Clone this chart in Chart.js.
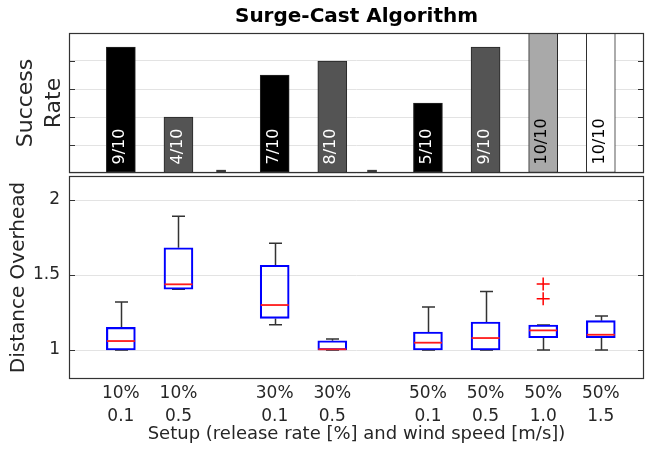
<!DOCTYPE html>
<html>
<head>
<meta charset="utf-8">
<script src="https://cdn.jsdelivr.net/npm/chart.js"></script>
<style>
  html, body { margin: 0; padding: 0; background: #fff; }
  #wrap { position: relative; width: 645px; height: 458px; overflow: hidden; }
  canvas { position: absolute; left: 0; }
  #topChart { top: 0; width: 645px; height: 176px; }
  #bottomChart { top: 174px; width: 645px; height: 284px; }
</style>
</head>
<body>
<div id="wrap">
  <canvas id="topChart" width="645" height="176"></canvas>
  <canvas id="bottomChart" width="645" height="284"></canvas>
</div>
<script>
// setups (x axis)
const releaseRates = ['10%', '10%', '30%', '30%', '50%', '50%', '50%', '50%'];
const windSpeeds = ['0.1', '0.5', '0.1', '0.5', '0.1', '0.5', '1.0', '1.5'];
const xPos = [1, 2, 3.67, 4.67, 6.33, 7.33, 8.33, 9.33];
const xMin = 0.1;
const xMax = 10.08;

// success rate (top)
const successes = [9, 4, 7, 8, 5, 9, 10, 10];
const trials = 10;
const emptySlots = [2.74, 5.36];

// distance overhead boxes (bottom)
const whiskerLow  = [1.0,   1.405, 1.169, 1.0,   1.0,   1.0,   1.0,   1.0];
const q1          = [1.0,   1.405, 1.211, 1.0,   1.0,   1.0,   1.082, 1.082];
const median      = [1.06,  1.438, 1.30,  1.005, 1.049, 1.08,  1.131, 1.102];
const q3          = [1.151, 1.682, 1.565, 1.062, 1.12,  1.187, 1.167, 1.196];
const whiskerHigh = [1.32,  1.891, 1.711, 1.073, 1.287, 1.391, 1.167, 1.227];
const outlierX = [8.33, 8.33];
const outlierY = [1.44, 1.342];
const overheadTicks = [1, 1.5, 2];
const rateTicks = [0.2, 0.4, 0.6, 0.8];

const windColor = { '0.1': '#000000', '0.5': '#545454', '1.0': '#a9a9a9', '1.5': '#ffffff' };
const lightWind = ['1.0', '1.5'];

Chart.defaults.font.family = '"DejaVu Sans", sans-serif';
Chart.defaults.color = '#262626';

// box outline + inward ticks, like matlab axes
const framePlugin = {
  id: 'frame',
  afterDraw(chart, args, opts) {
    const { ctx, chartArea: a } = chart;
    const y = chart.scales.y;
    ctx.save();
    ctx.strokeStyle = '#333';
    ctx.lineWidth = 1.2;
    ctx.strokeRect(a.left + 0.5, a.top + 0.5, a.right - a.left - 1, a.bottom - a.top - 1);
    opts.ticks.forEach(v => {
      const py = Math.round(y.getPixelForValue(v)) + 0.5;
      ctx.beginPath();
      ctx.moveTo(a.left, py); ctx.lineTo(a.left + 6, py);
      ctx.moveTo(a.right, py); ctx.lineTo(a.right - 6, py);
      ctx.stroke();
    });
    ctx.restore();
  }
};

const barLabelPlugin = {
  id: 'barLabels',
  afterDatasetsDraw(chart) {
    const ctx = chart.ctx;
    const meta = chart.getDatasetMeta(0);
    ctx.save();
    ctx.font = '16px "DejaVu Sans"';
    ctx.textAlign = 'left';
    ctx.textBaseline = 'middle';
    meta.data.forEach((bar, i) => {
      ctx.save();
      ctx.translate(bar.x - 1, bar.base - 8);
      ctx.rotate(-Math.PI / 2);
      ctx.fillStyle = lightWind.includes(windSpeeds[i]) ? '#000' : '#fff';
      ctx.fillText(successes[i] + '/' + trials, 0, 0);
      ctx.restore();
    });
    ctx.restore();
  }
};

// whiskers go under the boxes, medians on top
const boxPartsPlugin = {
  id: 'boxParts',
  beforeDatasetsDraw(chart) {
    const { ctx, scales: { x, y } } = chart;
    ctx.save();
    ctx.strokeStyle = '#333';
    ctx.lineWidth = 1.5;
    xPos.forEach((v, i) => {
      const px = Math.round(x.getPixelForValue(v)) + 0.5;
      [[q3[i], whiskerHigh[i]], [q1[i], whiskerLow[i]]].forEach(([from, to]) => {
        const y0 = y.getPixelForValue(from);
        const y1 = y.getPixelForValue(to);
        ctx.beginPath();
        ctx.moveTo(px, y0); ctx.lineTo(px, y1);
        ctx.moveTo(px - 6.5, y1); ctx.lineTo(px + 6.5, y1);
        ctx.stroke();
      });
    });
    ctx.restore();
  },
  afterDatasetsDraw(chart) {
    const { ctx, scales: { x, y } } = chart;
    ctx.save();
    ctx.strokeStyle = '#ff1a1a';
    ctx.lineWidth = 1.8;
    xPos.forEach((v, i) => {
      const px = x.getPixelForValue(v);
      const py = y.getPixelForValue(median[i]);
      ctx.beginPath();
      ctx.moveTo(px - 14, py); ctx.lineTo(px + 14, py);
      ctx.stroke();
    });
    ctx.restore();
  }
};

new Chart(document.getElementById('topChart'), {
  type: 'bar',
  data: {
    datasets: [{
      data: xPos.map((x, i) => ({ x: x, y: successes[i] / trials })),
      backgroundColor: windSpeeds.map(w => windColor[w]),
      borderColor: '#262626',
      borderWidth: 1,
      borderSkipped: false,
      barThickness: 29,
      grouped: false
    }, {
      data: emptySlots.map(x => ({ x: x, y: 0.02 })),
      backgroundColor: '#3a3a3a',
      borderWidth: 0,
      barThickness: 9,
      grouped: false
    }]
  },
  options: {
    responsive: false,
    animation: false,
    layout: { autoPadding: false, padding: { left: 0, right: 1, top: 0, bottom: 3 } },
    plugins: {
      legend: { display: false },
      tooltip: { enabled: false },
      title: {
        display: true,
        text: 'Surge-Cast Algorithm',
        fullSize: false,
        color: '#000',
        font: { size: 20, weight: 'bold' },
        padding: { top: 5, bottom: 4 }
      },
      frame: { ticks: rateTicks }
    },
    scales: {
      x: { type: 'linear', min: xMin, max: xMax, offset: false, display: false },
      y: {
        min: 0, max: 1,
        ticks: { display: false, stepSize: 0.2 },
        grid: { color: '#e3e3e3', drawTicks: false },
        border: { display: false },
        title: {
          display: true,
          text: ['Success', 'Rate'],
          font: { size: 22, lineHeight: 1.25 },
          padding: { top: 13, bottom: 0 }
        },
        afterFit: s => { s.width = 69; }
      }
    }
  },
  plugins: [framePlugin, barLabelPlugin]
});

new Chart(document.getElementById('bottomChart'), {
  type: 'bar',
  data: {
    datasets: [{
      type: 'bar',
      data: xPos.map((x, i) => ({ x: x, y: [q1[i], q3[i]] })),
      backgroundColor: 'rgba(0,0,0,0)',
      borderColor: '#0000ff',
      borderWidth: 1.5,
      borderSkipped: false,
      barThickness: 29,
      grouped: false
    }, {
      type: 'scatter',
      data: outlierY.map((y, i) => ({ x: outlierX[i], y: y })),
      pointStyle: 'cross',
      radius: 6.5,
      borderColor: '#ff0000',
      backgroundColor: '#ff0000',
      borderWidth: 1.5
    }]
  },
  options: {
    responsive: false,
    animation: false,
    layout: { autoPadding: false, padding: { left: 0, right: 1, top: 2, bottom: 0 } },
    plugins: {
      legend: { display: false },
      tooltip: { enabled: false },
      frame: { ticks: overheadTicks }
    },
    scales: {
      x: {
        type: 'linear', min: xMin, max: xMax, offset: false,
        grid: { display: false, drawTicks: false },
        border: { display: false },
        afterBuildTicks: s => { s.ticks = xPos.map(v => ({ value: v })); },
        ticks: {
          autoSkip: false, maxRotation: 0, padding: 4,
          font: { size: 17, lineHeight: 1.3 },
          callback: (v, i) => [releaseRates[i], windSpeeds[i]]
        },
        title: {
          display: true,
          text: 'Setup (release rate [%] and wind speed [m/s])',
          font: { size: 18 },
          padding: { top: 0, bottom: 13 }
        },
        afterFit: s => {
          s.height = 79;
          s.paddingLeft = 0;
          s.paddingRight = 0;
        }
      },
      y: {
        min: 0.807, max: 2.16,
        afterBuildTicks: s => { s.ticks = overheadTicks.map(v => ({ value: v })); },
        ticks: { padding: 9, font: { size: 17 }, callback: v => String(v) },
        grid: { color: '#e3e3e3', drawTicks: false },
        border: { display: false },
        title: {
          display: true,
          text: 'Distance Overhead',
          font: { size: 20 },
          padding: { top: 7, bottom: 0 }
        },
        afterFit: s => {
          s.width = 69;
          s.paddingTop = 0;
          s.paddingBottom = 0;
        }
      }
    }
  },
  plugins: [framePlugin, boxPartsPlugin]
});
</script>
</body>
</html>
